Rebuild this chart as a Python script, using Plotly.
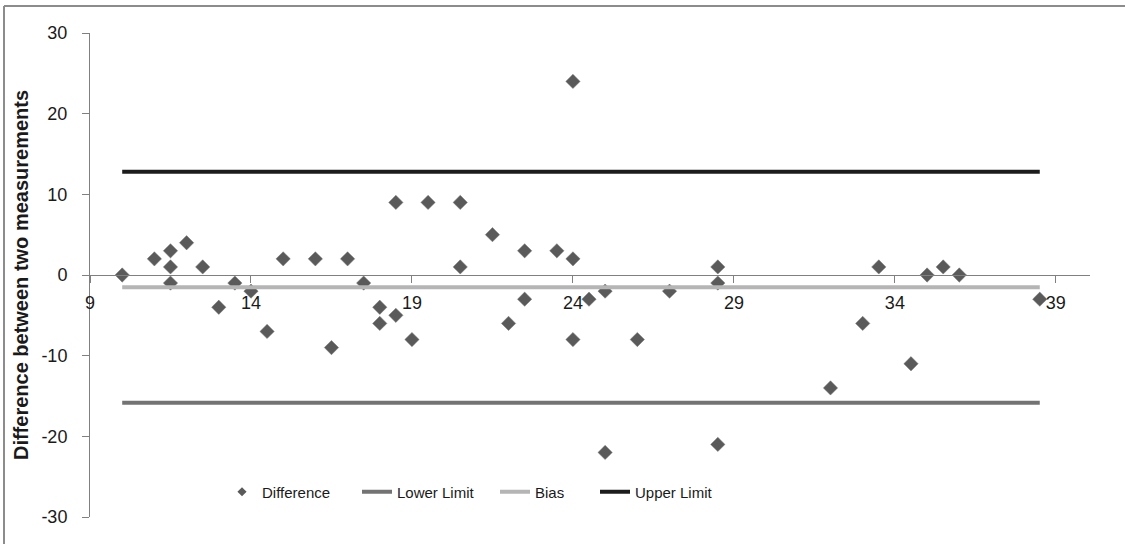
import plotly.graph_objects as go

# ---- data ----
avg_x = [10, 11, 11.5, 11.5, 11.5, 12, 12.5, 13, 13.5, 14, 14.5, 15, 16, 16.5, 17, 17.5,
         18, 18, 18.5, 18.5, 19, 19.5, 20.5, 20.5, 21.5, 22, 22.5, 22.5, 23.5, 24, 24, 24,
         24.5, 25, 25, 26, 27, 28.5, 28.5, 28.5, 32, 33, 33.5, 34.5, 35, 35.5, 36, 38.5]
difference = [0, 2, 3, 1, -1, 4, 1, -4, -1, -2, -7, 2, 2, -9, 2, -1,
              -4, -6, 9, -5, -8, 9, 9, 1, 5, -6, 3, -3, 3, 24, 2, -8,
              -3, -2, -22, -8, -2, 1, -1, -21, -14, -6, 1, -11, 0, 1, 0, -3]
limit_x = [10, 38.5]
bias_val = -1.52
upper_val = 12.8
lower_val = -15.85
x_ticks = [9, 14, 19, 24, 29, 34, 39]
y_ticks = [-30, -20, -10, 0, 10, 20, 30]

FONT = "Liberation Sans, Arial, Helvetica, sans-serif"
W, H = 1125, 544
L, R, T, B = 90, 35, 33, 27
PW, PH = W - L - R, H - T - B


def px_x(p):
    return (p - L) / PW


def px_y(p):
    return (H - B - p) / PH


fig = go.Figure()

# main scatter (no legend entry, legend uses a smaller marker)
fig.add_trace(go.Scatter(
    x=avg_x, y=difference, mode="markers", name="Difference", showlegend=False,
    marker=dict(symbol="diamond", size=11, color="#5a5a5a", line=dict(width=0.5, color="#777777")),
))
fig.add_trace(go.Scatter(
    x=[None], y=[None], mode="markers", name="Difference", legend="legend",
    marker=dict(symbol="diamond", size=7, color="#5a5a5a"),
))
fig.add_trace(go.Scatter(
    x=limit_x, y=[lower_val] * len(limit_x), mode="lines", name="Lower Limit", legend="legend2",
    line=dict(color="#737373", width=4),
))
fig.add_trace(go.Scatter(
    x=limit_x, y=[bias_val] * len(limit_x), mode="lines", name="Bias", legend="legend3",
    line=dict(color="#b5b5b5", width=4),
))
fig.add_trace(go.Scatter(
    x=limit_x, y=[upper_val] * len(limit_x), mode="lines", name="Upper Limit", legend="legend4",
    line=dict(color="#1c1c1c", width=4),
))

leg_y = px_y(492)
leg_common = dict(orientation="h", yanchor="middle", y=leg_y, xanchor="left",
                  bgcolor="rgba(0,0,0,0)", font=dict(family=FONT, size=15, color="#1a1a1a"))

fig.update_layout(
    width=W, height=H,
    margin=dict(l=L, r=R, t=T, b=B, autoexpand=False),
    paper_bgcolor="white", plot_bgcolor="white",
    font=dict(family=FONT, color="#1a1a1a"),
    legend=dict(x=px_x(222), **leg_common),
    legend2=dict(x=px_x(357), **leg_common),
    legend3=dict(x=px_x(495), **leg_common),
    legend4=dict(x=px_x(595), **leg_common),
    xaxis=dict(
        range=[9, 40.06], tickvals=x_ticks, ticktext=[str(v) for v in x_ticks],
        showgrid=False, zeroline=False, showline=True, linecolor="#808080", linewidth=1,
        ticks="outside", ticklen=7, tickcolor="#808080", tickwidth=1,
        anchor="free", position=0.5, ticklabelstandoff=4,
        tickfont=dict(family=FONT, size=18, color="#1a1a1a"),
    ),
    yaxis=dict(
        range=[-30, 30], tickvals=y_ticks, ticktext=[str(v) for v in y_ticks],
        showgrid=False, zeroline=False, showline=True, linecolor="#808080", linewidth=1,
        ticks="outside", ticklen=7, tickcolor="#808080", tickwidth=1,
        ticklabelstandoff=11,
        tickfont=dict(family=FONT, size=18, color="#1a1a1a"),
        title=dict(text="<b>Difference between two measurements</b>", standoff=7,
                   font=dict(family=FONT, size=20, color="#1a1a1a")),
    ),
    shapes=[
        dict(type="line", xref="paper", yref="paper", x0=px_x(4), x1=px_x(1125),
             y0=px_y(6), y1=px_y(6), line=dict(color="#8c8c8c", width=2)),
        dict(type="line", xref="paper", yref="paper", x0=px_x(4), x1=px_x(4),
             y0=px_y(6), y1=px_y(544), line=dict(color="#8c8c8c", width=2)),
    ],
)

fig.write_html("out.html", config={"displayModeBar": False},
               post_script="document.body.style.margin='0';")
